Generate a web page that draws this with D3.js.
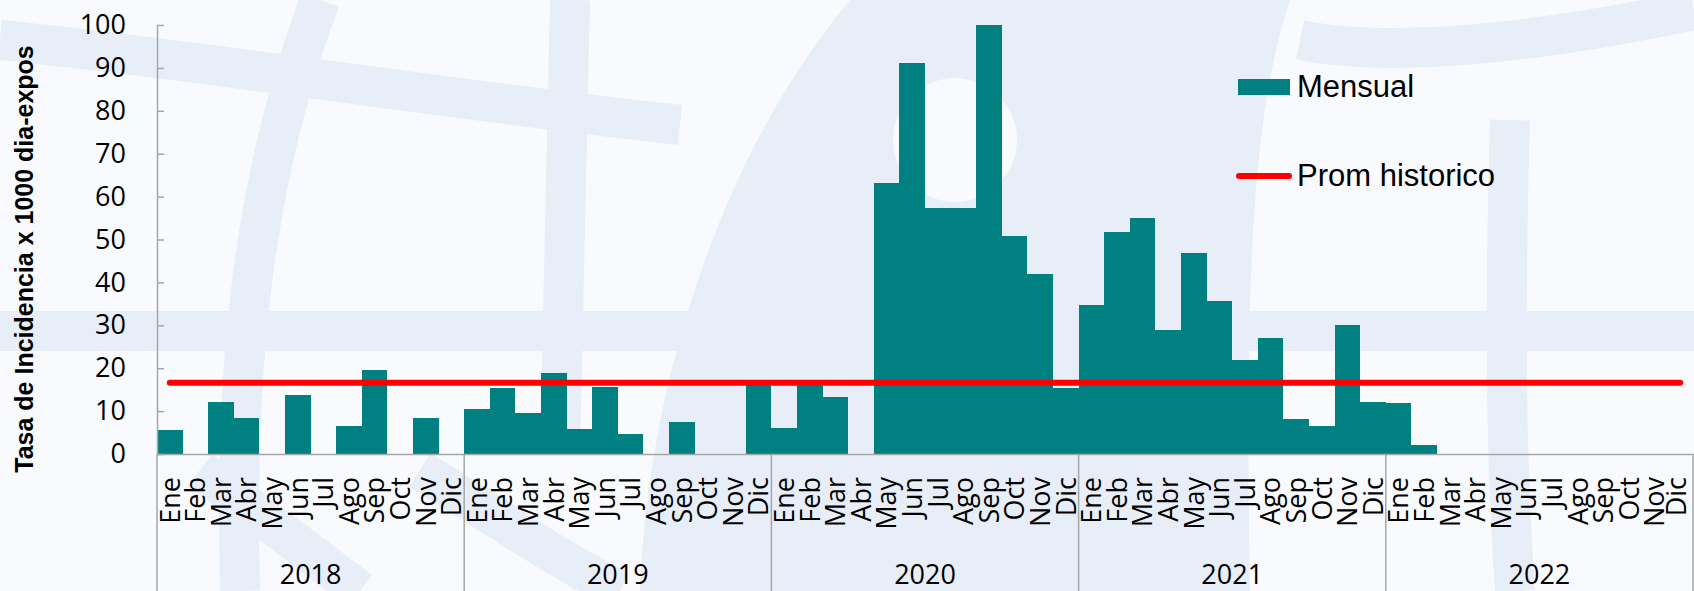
<!DOCTYPE html>
<html>
<head>
<meta charset="utf-8">
<script src="https://cdn.jsdelivr.net/npm/d3@7"></script>
<style>
    body { margin: 0; padding: 0; background: #F8FAFD; }
    svg { display: block; }
</style>
</head>
<body>
<script>
"use strict";

// categories
var years = ["2018", "2019", "2020", "2021", "2022"];
var months = ["Ene", "Feb", "Mar", "Abr", "May", "Jun", "Jul", "Ago", "Sep", "Oct", "Nov", "Dic"];

// monthly rate, one array per year
var mensual2018 = [5.5, 0, 12.1, 8.4, 0, 13.7, 0, 6.6, 19.6, 0, 8.5, 0];
var mensual2019 = [10.4, 15.3, 9.5, 18.8, 5.8, 15.6, 4.7, 0, 7.5, 0, 0, 16.5];
var mensual2020 = [6.1, 16.5, 13.3, 0, 63.2, 91.1, 57.3, 57.3, 100, 50.7, 41.9, 15.5];
var mensual2021 = [34.7, 51.8, 55.0, 29.0, 46.9, 35.6, 21.8, 27.0, 8.2, 6.5, 30.0, 12.1];
var mensual2022 = [11.9, 2.2, 0, 0, 0, 0, 0, 0, 0, 0, 0, 0];

// historic average (flat line)
var promHistorico = 16.6;

var yTicks = [0, 10, 20, 30, 40, 50, 60, 70, 80, 90, 100];

var legendLabels = ["Mensual", "Prom historico"];
var yTitle = "Tasa de Incidencia x 1000 dia-expos";

var WIDTH = 1694, HEIGHT = 591;
var PLOT = { LEFT: 157, RIGHT: 1693, TOP: 25, BOTTOM: 454 };
var TEAL = "#008080", RED = "#FF0000", AXIS = "#A6A6A6", WATER = "#E8EEF7";
var calibriLike = "'Open Sans', 'Noto Sans', sans-serif";
var arialLike = "'Liberation Sans', Arial, sans-serif";

// flatten years x months into one list of bars
var byYear = [mensual2018, mensual2019, mensual2020, mensual2021, mensual2022];
var monthly = [];
for (var i = 0; i < years.length; i++)
{
    for (var j = 0; j < months.length; j++)
        monthly.push({ key: years[i] + "-" + months[j], year: years[i], month: months[j], value: byYear[i][j] });
}

var svg = d3.select("body").append("svg")
            .attr("width", WIDTH)
            .attr("height", HEIGHT);

// faint watermark in the background
var bg = svg.append("g").attr("class", "watermark");
bg.append("rect").attr("width", WIDTH).attr("height", HEIGHT).attr("fill", "#F8FAFD");
bg.append("path")
    .attr("d", "M640,591 C645,430 700,180 850,0 L1290,0 C1250,120 1245,300 1250,591 Z")
    .attr("fill", WATER);
bg.append("circle").attr("cx", 955).attr("cy", 140).attr("r", 62).attr("fill", "#F8FAFD");
var bands = [
    "M0,331 L1694,331",
    "M0,40 C200,60 450,100 680,125",
    "M240,591 C235,400 245,200 320,0",
    "M570,0 L560,454",
    "M1510,120 C1505,300 1505,450 1515,591",
    "M1300,40 C1400,60 1550,40 1694,10",
    "M200,470 L360,591",
    "M420,470 C500,520 560,560 620,591"
];
bg.selectAll(".band").data(bands).enter()
    .append("path")
    .attr("class", "band")
    .attr("d", function(d) { return d; })
    .attr("fill", "none")
    .attr("stroke", WATER)
    .attr("stroke-width", 40);

// scales
var x = d3.scaleBand()
          .domain(monthly.map(function(d) { return d.key; }))
          .range([PLOT.LEFT, PLOT.RIGHT])
          .padding(0);

var xYear = d3.scaleBand()
              .domain(years)
              .range([PLOT.LEFT, PLOT.RIGHT])
              .padding(0);

var y = d3.scaleLinear()
          .domain([0, 100])
          .range([PLOT.BOTTOM, PLOT.TOP]);

// bars (crisp so neighbours do not show seams)
svg.append("g")
    .attr("class", "bars")
    .attr("shape-rendering", "crispEdges")
    .selectAll("rect")
    .data(monthly)
    .enter()
    .append("rect")
    .attr("x", function(d) { return x(d.key); })
    .attr("width", x.bandwidth())
    .attr("y", function(d) { return y(d.value); })
    .attr("height", function(d) { return y(0) - y(d.value); })
    .attr("fill", TEAL);

// y axis, ticks point inwards
var yAxis = svg.append("g")
    .attr("transform", "translate(" + PLOT.LEFT + ",0)")
    .call(d3.axisLeft(y).tickValues(yTicks).tickSize(-7).tickSizeOuter(0).tickPadding(31));
yAxis.selectAll("path, line").attr("stroke", AXIS).attr("stroke-width", 1.5);
yAxis.selectAll("text")
    .attr("font-family", calibriLike)
    .attr("font-size", 27)
    .attr("fill", "#000");

// month labels, rotated
var xAxis = svg.append("g")
    .attr("transform", "translate(0," + PLOT.BOTTOM + ")")
    .call(d3.axisBottom(x).tickSize(0).tickSizeOuter(0)
            .tickFormat(function(k) { return k.split("-")[1]; }));
xAxis.select(".domain").attr("stroke", AXIS).attr("stroke-width", 1.5);
var nTicks = monthly.length;
xAxis.selectAll("text")
    .attr("transform", "rotate(-90)")
    .attr("x", -23)
    .attr("y", 0)
    // last label sits at the right edge, pull it in a little
    .attr("dy", function(d, i) { return i == nTicks - 1 ? "0.2em" : "0.36em"; })
    .attr("text-anchor", "end")
    .attr("font-family", calibriLike)
    .attr("font-size", 27)
    .attr("fill", "#000");

// year labels under the months
var yearAxis = svg.append("g")
    .attr("transform", "translate(0," + PLOT.BOTTOM + ")")
    .call(d3.axisBottom(xYear).tickSize(0).tickSizeOuter(0));
yearAxis.select(".domain").remove();
yearAxis.selectAll("text")
    .attr("y", 130)
    .attr("dy", 0)
    .attr("font-family", calibriLike)
    .attr("font-size", 27)
    .attr("fill", "#000");

// year separators running down to the bottom edge
var edges = years.map(function(yr) { return xYear(yr); }).concat([PLOT.RIGHT]);
svg.append("g")
    .selectAll("line")
    .data(edges)
    .enter()
    .append("line")
    .attr("x1", function(d) { return d; })
    .attr("x2", function(d) { return d; })
    .attr("y1", PLOT.BOTTOM)
    .attr("y2", HEIGHT)
    .attr("stroke", AXIS)
    .attr("stroke-width", 1.5);

// historic average line from first to last month
var first = monthly[0], last = monthly[monthly.length - 1];
var line = d3.line()
             .x(function(d) { return x(d.key) + x.bandwidth() / 2; })
             .y(function() { return y(promHistorico); });
svg.append("path")
    .attr("d", line([first, last]))
    .attr("fill", "none")
    .attr("stroke", RED)
    .attr("stroke-width", 6)
    .attr("stroke-linecap", "round");

// y axis title
svg.append("text")
    .attr("transform", "translate(32.5,259) rotate(-90)")
    .attr("text-anchor", "middle")
    .attr("font-family", arialLike)
    .attr("font-weight", "bold")
    .attr("font-size", 25)
    .attr("fill", "#000")
    .text(yTitle);

// legend
var legend = svg.append("g").attr("class", "legend");
legend.append("rect")
    .attr("x", 1238).attr("y", 79)
    .attr("width", 52).attr("height", 16)
    .attr("fill", TEAL);
legend.append("line")
    .attr("x1", 1239).attr("x2", 1289)
    .attr("y1", 176).attr("y2", 176)
    .attr("stroke", RED)
    .attr("stroke-width", 6)
    .attr("stroke-linecap", "round");
legend.selectAll("text")
    .data(legendLabels)
    .enter()
    .append("text")
    .attr("x", 1297)
    .attr("y", function(d, i) { return i == 0 ? 97 : 186; })
    .attr("font-family", arialLike)
    .attr("font-size", 31)
    .attr("fill", "#000")
    .text(function(d) { return d; });
</script>
</body>
</html>
